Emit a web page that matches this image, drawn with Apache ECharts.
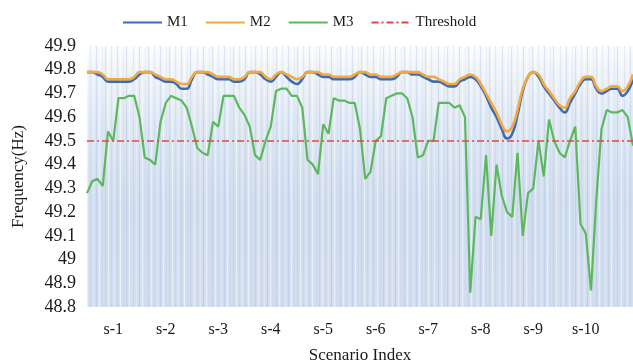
<!DOCTYPE html>
<html>
<head>
<meta charset="utf-8">
<script src="https://cdn.jsdelivr.net/npm/echarts@6/dist/echarts.min.js"></script>
<style>
  html, body { margin: 0; padding: 0; background: #fff; }
  #chart { width: 633px; height: 361px; }
</style>
</head>
<body>
<div id="chart"></div>
<script>
// scenario labels, each one sits in the middle of a block of 10 samples
const scenarios = ['s-1', 's-2', 's-3', 's-4', 's-5', 's-6', 's-7', 's-8', 's-9', 's-10'];
const threshold = 49.5;

const m1 = [
  49.79, 49.79, 49.78, 49.77, 49.75, 49.75, 49.75, 49.75, 49.75, 49.76,
  49.78, 49.79, 49.79, 49.77, 49.76, 49.75, 49.75, 49.74, 49.72, 49.72,
  49.76, 49.79, 49.79, 49.78, 49.77, 49.76, 49.76, 49.76, 49.75, 49.75,
  49.76, 49.79, 49.79, 49.78, 49.76, 49.75, 49.77, 49.79, 49.77, 49.75,
  49.74, 49.76, 49.79, 49.79, 49.78, 49.77, 49.77, 49.76, 49.76, 49.76,
  49.76, 49.77, 49.79, 49.78, 49.77, 49.77, 49.76, 49.76, 49.76, 49.77,
  49.79, 49.79, 49.78, 49.78, 49.77, 49.76, 49.75, 49.75, 49.74, 49.73,
  49.73, 49.75, 49.76, 49.77, 49.76, 49.73, 49.69, 49.64, 49.6, 49.55,
  49.51, 49.53, 49.61, 49.71, 49.77, 49.79, 49.77, 49.73, 49.7, 49.67,
  49.64, 49.62, 49.66, 49.7, 49.74, 49.76, 49.76, 49.72, 49.7, 49.71,
  49.72, 49.72, 49.69, 49.71, 49.76
];

const m2 = [
  49.79, 49.79, 49.79, 49.78, 49.76, 49.76, 49.76, 49.76, 49.76, 49.77,
  49.79, 49.79, 49.79, 49.78, 49.77, 49.76, 49.76, 49.75, 49.74, 49.74,
  49.77, 49.79, 49.79, 49.79, 49.78, 49.77, 49.77, 49.77, 49.76, 49.76,
  49.77, 49.79, 49.79, 49.79, 49.77, 49.76, 49.78, 49.79, 49.78, 49.77,
  49.76, 49.77, 49.79, 49.79, 49.79, 49.78, 49.78, 49.77, 49.77, 49.77,
  49.77, 49.78, 49.79, 49.79, 49.78, 49.78, 49.77, 49.77, 49.77, 49.78,
  49.79, 49.79, 49.79, 49.79, 49.78, 49.77, 49.77, 49.76, 49.75, 49.74,
  49.74, 49.76, 49.77, 49.78, 49.77, 49.74, 49.7, 49.66, 49.62, 49.57,
  49.54, 49.56, 49.63, 49.72, 49.77, 49.79, 49.78, 49.74, 49.71, 49.68,
  49.65, 49.64, 49.68, 49.71, 49.75, 49.77, 49.77, 49.73, 49.71, 49.72,
  49.73, 49.73, 49.71, 49.73, 49.78
];

const m3 = [
  49.28, 49.33, 49.34, 49.31, 49.54, 49.5, 49.68, 49.68, 49.69, 49.69,
  49.6, 49.43, 49.42, 49.4, 49.58, 49.66, 49.69, 49.68, 49.67, 49.64,
  49.56, 49.47, 49.45, 49.44, 49.58, 49.56, 49.69, 49.69, 49.69, 49.64,
  49.61, 49.56, 49.44, 49.42, 49.5, 49.56, 49.71, 49.72, 49.72, 49.69,
  49.69, 49.64, 49.42, 49.4, 49.36, 49.57, 49.53, 49.68, 49.67, 49.67,
  49.66, 49.66, 49.55, 49.34, 49.37, 49.5, 49.52, 49.68, 49.69, 49.7,
  49.7, 49.68, 49.6, 49.43, 49.44, 49.5, 49.5, 49.66, 49.66, 49.66,
  49.64, 49.65, 49.6, 48.86, 49.18, 49.17, 49.44, 49.1, 49.4, 49.27,
  49.2, 49.18, 49.45, 49.1, 49.28, 49.3, 49.5, 49.35, 49.59, 49.5,
  49.45, 49.43, 49.5, 49.56, 49.15, 49.11, 48.87, 49.25, 49.55, 49.63,
  49.62, 49.62, 49.63, 49.6, 49.48
];

const samples = m1.map((v, i) => ((i - 5) % 10 === 0 ? scenarios[(i - 5) / 10] : ''));
const stripes = new Array(180).fill('');

const font = 'Liberation Serif';
const textStyle = { fontFamily: font, fontSize: 16, color: '#1a1a1a' };

const chart = echarts.init(document.getElementById('chart'));
chart.setOption({
  animation: false,
  legend: {
    left: 117,
    top: 10,
    itemWidth: 39,
    itemHeight: 14,
    itemGap: 17,
    itemStyle: { opacity: 0 },
    textStyle: { fontFamily: font, fontSize: 15, color: '#1a1a1a' },
    data: ['M1', 'M2', 'M3', 'Threshold'],
  },
  grid: {
    left: 87,
    right: 0,
    top: 46,
    bottom: 54,
    outerBoundsMode: 'none',
    show: true,
    borderWidth: 0,
    backgroundColor: new echarts.graphic.LinearGradient(0, 0, 0, 1, [
      { offset: 0, color: '#fbfcfe' },
      { offset: 0.08, color: '#f2f5fa' },
      { offset: 0.3, color: '#dfe8f4' },
      { offset: 0.6, color: '#d2deef' },
      { offset: 1, color: '#d4dfef' },
    ]),
  },
  xAxis: [
    {
      type: 'category',
      boundaryGap: false,
      data: samples,
      name: 'Scenario Index',
      nameLocation: 'middle',
      nameGap: 40,
      nameTextStyle: { fontFamily: font, fontSize: 17, color: '#1a1a1a' },
      axisLine: { show: false },
      axisTick: { show: false },
      axisLabel: { interval: 0, margin: 15, ...textStyle },
      splitLine: { show: false },
    },
    {
      type: 'category',
      boundaryGap: false,
      data: stripes,
      position: 'bottom',
      axisLine: { show: false },
      axisTick: { show: false },
      axisLabel: { show: false },
      splitLine: {
        show: true,
        interval: 0,
        lineStyle: {
          width: 1.2,
          color: [
            'rgba(255,255,255,0.45)', 'rgba(165,188,220,0.22)', 'rgba(255,255,255,0.25)',
            'rgba(155,180,215,0.3)', 'rgba(255,255,255,0.5)', 'rgba(170,192,225,0.15)',
            'rgba(150,175,212,0.28)',
          ],
        },
      },
    },
  ],
  yAxis: {
    type: 'value',
    min: 48.8,
    max: 49.9,
    interval: 0.1,
    name: 'Frequency(Hz)',
    nameLocation: 'middle',
    nameGap: 60,
    nameTextStyle: { fontFamily: font, fontSize: 17, color: '#1a1a1a' },
    axisLine: { show: false },
    axisTick: { show: false },
    axisLabel: { margin: 11, ...textStyle, fontSize: 18 },
    splitLine: { show: false },
  },
  series: [
    {
      name: 'M1',
      type: 'line',
      data: m1,
      smooth: true,
      symbol: 'none',
      color: '#3c6db3',
      lineStyle: { width: 2.6 },
    },
    {
      name: 'M2',
      type: 'line',
      data: m2,
      smooth: true,
      symbol: 'none',
      color: '#f5a83e',
      lineStyle: { width: 2.6 },
    },
    {
      name: 'M3',
      type: 'line',
      data: m3,
      symbol: 'none',
      color: '#5cb85c',
      lineStyle: { width: 2.2 },
    },
    {
      name: 'Threshold',
      type: 'line',
      data: m1.map(() => threshold),
      symbol: 'none',
      color: '#e4473a',
      lineStyle: { width: 1.5, type: [7, 3, 2, 3] },
    },
  ],
});
</script>
</body>
</html>
